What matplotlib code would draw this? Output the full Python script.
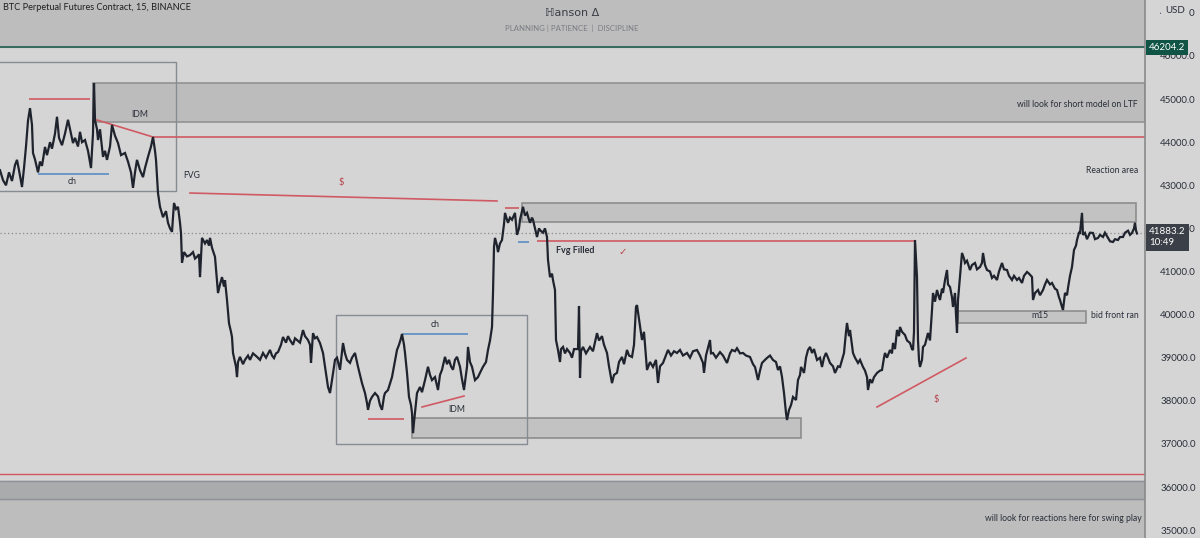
import matplotlib
matplotlib.use("Agg")
import matplotlib.pyplot as plt
from matplotlib.patches import Rectangle

plt.rcParams['font.family'] = ['Lato', 'DejaVu Sans']

# ---- price path (bar index, price) ----
path = [
 (0,43350),(3,43120),(6,43000),(9,43300),(12,43100),(15,43470),(17,43590),(19,43350),(22,42960),(24,43400),
 (26,43900),(28,44500),(30,44790),(32,44400),(33,43750),(35,43600),(37,43400),(38,43300),(40,43550),(42,43450),
 (45,43890),(47,43700),(50,44000),(52,43850),(55,44200),(57,44590),(59,44100),(62,43930),(65,44200),(68,44520),
 (70,44300),(73,43980),(75,44100),(78,43900),(80,44240),(82,44000),(85,44050),(88,43800),(91,43400),(93,44200),
 (94,45370),(95,44515),(97,44300),(98,44050),(100,44300),(103,43660),(105,43800),(107,43590),(110,43900),(112,44400),
 (115,44150),(118,43980),(121,43700),(125,43750),(128,43550),(131,43300),(133,42940),(135,43300),(137,43590),(140,43350),
 (143,43190),(145,43400),(148,43660),(151,43900),(153,44120),(155,43800),(156,43590),(158,42820),(160,42500),(163,42260),
 (166,42400),(168,42130),(170,42000),(172,41920),(174,42590),(176,42450),(178,42500),(180,42130),(181,41890),(182,41200),
 (184,41450),(187,41350),(190,41380),(193,41450),(195,41300),(197,41340),(199,41400),(200,40870),(202,41780),(205,41650),
 (207,41730),(209,41600),(210,41780),(212,41550),(215,41340),(217,40800),(218,40500),(220,40700),(222,40870),(224,40650),
 (225,40800),(227,40340),(229,39800),(231,39600),(232,39480),(233,39110),(235,38900),(236,38790),(237,38550),(238,38900),
 (240,39020),(243,38850),(245,38950),(248,39050),(250,38950),(253,39100),(257,39020),(260,38950),(263,39110),(266,39000),
 (270,39180),(272,39050),(274,38990),(276,39100),(278,39130),(281,39300),(283,39480),(286,39350),(288,39500),(290,39410),
 (293,39300),(295,39450),(297,39410),(300,39350),(303,39640),(305,39500),(308,39410),(310,39300),(311,38880),(313,39570),
 (315,39450),(317,39480),(320,39340),(323,39110),(325,38790),(328,38320),(330,38180),(332,38480),(335,38950),(337,39000),
 (340,38720),(343,39340),(345,39100),(347,38950),(350,38880),(352,39000),(355,39110),(358,38790),(360,38600),(362,38410),
 (365,38180),(367,37950),(368,37790),(370,38000),(372,38090),(375,38180),(378,38100),(380,37900),(382,37790),(384,38100),
 (385,38180),(388,38250),(390,38400),(392,38550),(394,38800),(396,39050),(397,39180),(399,39300),(401,39450),(402,39550),
 (404,39300),(405,39110),(407,38650),(409,38090),(411,37900),(412,37720),(413,37250),(414,37500),(415,37720),(417,38180),
 (420,38320),(422,38200),(425,38480),(428,38790),(430,38600),(432,38480),(435,38550),(438,38250),(440,38600),(442,38720),
 (445,39020),(447,38850),(449,38950),(451,38800),(453,38720),(455,38950),(457,39020),(460,38790),(462,38500),(464,38250),
 (466,38600),(467,38790),(468,39250),(470,38900),(472,38790),(475,38480),(478,38550),(480,38650),(483,38790),(486,38900),
 (488,39180),(490,39400),(492,39710),(493,40500),(494,41570),(495,41780),(497,41600),(498,41450),(500,41650),(502,41730),
 (504,42100),(505,42360),(507,42200),(508,42130),(510,42250),(512,42200),(515,42360),(516,42100),(517,41850),(519,42000),
 (520,42200),(522,42400),(523,42500),(525,42300),(527,42360),(529,42200),(530,42130),(532,42250),(533,42200),(535,42000),
 (537,41800),(539,42000),(540,41960),(543,41900),(545,42000),(547,41800),(548,41270),(550,40870),(552,40950),(553,40800),
 (555,40570),(556,39410),(558,39180),(560,38900),(561,39200),(563,39250),(565,39100),(567,39200),(570,39110),(572,39000),
 (574,39200),(578,39200),(579,40200),(580,38530),(581,39150),(583,39250),(586,39100),(590,39250),(593,39150),(597,39570),
 (599,39400),(602,39500),(604,39300),(607,39110),(609,38800),(612,38410),(614,38600),(617,38650),(619,38900),(622,39017),
 (624,38850),(627,39180),(629,39050),(632,39017),(634,39300),(636,40180),(637,40220),(639,39900),(642,39411),(644,39600),
 (646,39000),(647,38715),(650,38900),(653,38785),(656,38950),(658,38414),(660,38800),(663,38878),(665,39000),(668,39180),
 (671,39050),(674,39150),(677,39110),(680,39180),(683,39050),(687,39110),(690,39000),(693,39150),(697,39179),(700,39050),
 (703,38878),(704,38650),(706,39050),(710,39411),(711,39100),(713,39110),(716,39000),(720,39130),(723,39050),(727,38878),
 (730,39100),(732,39180),(735,39150),(737,39220),(740,39100),(743,39110),(746,39050),(750,39017),(753,38850),(755,38785),
 (758,38483),(760,38700),(762,38878),(765,38950),(767,38994),(770,39050),(773,38947),(776,38900),(778,38715),(780,38800),
 (782,38553),(784,38182),(786,37718),(787,37555),(789,37787),(791,37900),(793,38089),(796,38019),(798,38483),(800,38600),
 (801,38785),(803,38700),(804,38646),(806,39000),(808,39179),(810,39250),(812,39110),(814,39200),(817,38947),(820,39000),
 (822,38785),(824,39000),(826,39110),(828,39000),(830,38878),(833,38800),(835,38646),(838,38800),(840,38785),(842,38950),
 (844,39110),(846,39600),(847,39806),(849,39500),(850,39643),(852,39300),(853,39110),(855,39000),(858,38878),(860,38950),
 (863,38785),(865,38700),(867,38553),(868,38251),(870,38500),(872,38414),(874,38550),(877,38646),(880,38700),(882,38715),
 (884,39000),(885,39110),(887,39000),(890,39179),(892,39100),(893,39342),(895,39200),(897,39643),(899,39500),(900,39713),
 (902,39600),(905,39527),(907,39400),(910,39342),(912,39200),(913,39179),(914,39600),(915,41731),(916,41300),(917,40873),
 (918,39411),(919,38950),(920,38785),(922,38950),(923,39249),(925,39300),(928,39574),(930,39400),(932,40107),(933,40502),
 (935,40300),(937,40571),(939,40400),(940,40339),(942,40600),(943,40502),(945,40800),(947,41035),(948,40700),(950,40641),
 (952,40400),(953,40177),(955,40502),(956,40000),(957,39574),(958,40339),(960,40900),(962,41430),(964,41300),(965,41198),
 (967,41250),(970,41035),(972,41150),(975,41198),(977,41050),(980,41105),(982,41200),(983,41430),(985,41150),(987,41035),
 (990,41000),(992,40850),(994,40900),(997,40803),(999,41000),(1002,41198),(1004,41050),(1007,41035),(1009,40900),(1012,40803),
 (1014,40900),(1017,40803),(1019,40850),(1022,40734),(1024,40900),(1027,40989),(1029,40950),(1032,40873),(1033,40339),(1035,40500),
 (1038,40571),(1040,40450),(1043,40571),(1045,40700),(1047,40803),(1050,40700),(1052,40734),(1055,40600),(1057,40571),(1059,40400),
 (1060,40339),(1062,40177),(1063,40107),(1065,40502),(1067,40450),(1068,40618),(1070,40900),(1072,41105),(1074,41499),(1076,41600),
 (1077,41731),(1079,41900),(1080,41894),(1082,42360),(1083,41850),(1085,41894),(1087,41750),(1088,41801),(1090,41900),(1093,41894),
 (1095,41750),(1098,41778),(1100,41850),(1103,41801),(1105,41900),(1108,41778),(1110,41700),(1113,41685),(1115,41750),(1118,41731),
 (1120,41800),(1123,41801),(1125,41900),(1128,41947),(1130,41850),(1132,41894),(1134,42000),(1135,42130),(1136,41950),(1137,41883),
]
bars = [b for b, _ in path]
prices = [p for _, p in path]

last_price = 41883.2
top_line_price = 46204.2
yticks = list(range(35000, 48000, 1000))

# ---- zones (x0, x1, price_low, price_high) ----
short_zone = (93, 1145, 44469, 45374)
reaction_zone = (522, 1136, 42149, 42589)
low_zone = (412, 801, 37137, 37601)
m15_zone = (958, 1086, 39805, 40083)
left_box = (-5, 176, 42868, 45861)
mid_box = (336, 527, 36998, 39991)

BG = '#d5d5d5'
RED = '#d05a63'
BLUE = '#5a8cc4'
TXT = '#2a2e39'

fig = plt.figure(figsize=(12, 5.38), dpi=100, facecolor=BG)
ax = fig.add_axes([0, 0, 1145/1200, 1])
ax.set_facecolor(BG)
ymin, ymax = 34817, 47299
ax.set_xlim(0, 1145)
ax.set_ylim(ymin, ymax)

# header band and bottom bands
ax.axhspan(top_line_price, ymax, color='#bdbdbd', zorder=0)
ax.axhline(top_line_price, color='#1d5c4d', lw=1.2, zorder=1)
ax.axhspan(ymin, 35722, color='#bdbdbd', zorder=0)
ax.axhspan(35722, 36139, color='#aaabad', zorder=0)
ax.axhline(36139, color='#8f9196', lw=1, zorder=1)
ax.axhline(35722, color='#8f9196', lw=1, zorder=1)
ax.axhline(36302, color=RED, lw=1, zorder=1)

def zone(z, fc, ec, lw=1.2):
    x0, x1, p0, p1 = z
    ax.add_patch(Rectangle((x0, p0), x1 - x0, p1 - p0, facecolor=fc, edgecolor=ec, lw=lw, zorder=1))

zone(short_zone, '#bcbcbc', '#929292')
zone(reaction_zone, '#c2c2c2', '#8d8d8d')
zone(low_zone, '#c2c2c2', '#8d8d8d')
zone(m15_zone, '#c4c4c4', '#8d8d8d')
zone(left_box, 'none', '#878c94', 1.0)
zone(mid_box, 'none', '#878c94', 1.0)

# horizontal levels
ax.hlines(44121, 153, 1145, color=RED, lw=1.2, zorder=2)
ax.hlines(45002, 29, 90, color=RED, lw=1.2, zorder=2)
ax.hlines(43262, 38, 109, color=BLUE, lw=1.2, zorder=2)
ax.hlines(41708, 537, 915, color=RED, lw=1.2, zorder=2)
ax.hlines(42473, 505, 519, color=RED, lw=1.2, zorder=2)
ax.hlines(41690, 518, 529, color=BLUE, lw=1.2, zorder=2)
ax.hlines(37578, 368, 404, color=RED, lw=1.2, zorder=2)
ax.hlines(39550, 402, 468, color=BLUE, lw=1.2, zorder=2)
ax.axhline(last_price, color='#8a8a8a', lw=0.9, ls=(0, (1, 2)), zorder=1)

# diagonal lines
ax.plot([97, 153], [44515, 44121], color=RED, lw=1.2, zorder=2)
ax.plot([190, 497], [42821, 42636], color=RED, lw=1.2, zorder=2)
ax.plot([422, 464], [37856, 38111], color=RED, lw=1.2, zorder=2)
ax.plot([877, 966], [37856, 38993], color=RED, lw=1.2, zorder=2)

# price path
ax.plot(bars, prices, color='#1f232d', lw=1.6, zorder=3, solid_joinstyle='miter')

# annotations
fs = 6.2
ax.text(72, 43077, 'ch', ha='center', va='center', fontsize=fs, color=TXT, zorder=4)
ax.text(140, 44654, 'IDM', ha='center', va='center', fontsize=fs, color=TXT, zorder=4)
ax.text(192, 43216, 'FVG', ha='center', va='center', fontsize=fs, color=TXT, zorder=4)
ax.text(341, 43054, '$', ha='center', va='center', fontsize=fs + 0.5, color='#b8414a', zorder=4)
ax.text(556, 41476, 'Fvg Filled', ha='left', va='center', fontsize=fs + 0.3, color=TXT,
        fontweight='bold', zorder=4)
ax.text(623, 41453, '✓', ha='center', va='center', fontsize=fs + 1, color='#b8414a',
        family=['DejaVu Sans'], fontweight='bold', zorder=4)
ax.text(435, 39759, 'ch', ha='center', va='center', fontsize=fs, color=TXT, zorder=4)
ax.text(457, 37787, 'IDM', ha='center', va='center', fontsize=fs, color=TXT, zorder=4)
ax.text(936, 38019, '$', ha='center', va='center', fontsize=fs + 0.5, color='#b8414a', zorder=4)
ax.text(1040, 39968, 'm15', ha='center', va='center', fontsize=fs, color=TXT, zorder=4)
ax.text(1139, 39968, 'bid front ran', ha='right', va='center', fontsize=fs, color=TXT, zorder=4)
ax.text(1138, 43332, 'Reaction area', ha='right', va='center', fontsize=fs, color=TXT, zorder=4)
ax.text(1138, 44886, 'will look for short model on LTF', ha='right', va='center', fontsize=fs, color=TXT, zorder=4)
ax.text(1142, 35258, 'will look for reactions here for swing play', ha='right', va='center', fontsize=fs, color=TXT, zorder=4)

# header texts
fig.text(3/1200, 1 - 8/538, 'BTC Perpetual Futures Contract, 15, BINANCE', ha='left', va='center',
         fontsize=6.6, color='#1f1f1f')
fig.text(572/1200, 1 - 13/538, 'ℍanson Δ', ha='center', va='center', fontsize=8,
         color='#3a3d45', family=['DejaVu Sans'])
fig.text(572/1200, 1 - 28/538, 'PLANNING | PATIENCE  |  DISCIPLINE', ha='center', va='center',
         fontsize=5.6, color='#7a7c82')

# price axis on the right
ax.yaxis.tick_right()
ax.set_yticks(yticks)
ax.set_yticklabels([f'{v:.1f}' for v in yticks])
ax.tick_params(axis='y', length=0, pad=11, labelsize=7, labelcolor='#2a2e39')
ax.tick_params(axis='x', bottom=False, labelbottom=False)
for s in ['top', 'left', 'bottom']:
    ax.spines[s].set_visible(False)
ax.spines['right'].set_color('#8a8a8a')
ax.spines['right'].set_linewidth(1.2)

ytr = ax.get_yaxis_transform()
ax.text(1.0 + 30/1145, 47060, 'USD', transform=ytr, ha='center', va='center', fontsize=7,
        color='#2a2e39', clip_on=False, zorder=6,
        bbox=dict(boxstyle='square,pad=0.45', facecolor=BG, edgecolor='none'))
ax.text(1.0 + 4/1145, top_line_price, '46204.2', transform=ytr, ha='left', va='center', fontsize=7,
        color='white', clip_on=False, zorder=6,
        bbox=dict(boxstyle='square,pad=0.3', facecolor='#0f5444', edgecolor='none'))
ax.text(1.0 + 4/1145, last_price - 90, f'{last_price:.1f}\n10:49', transform=ytr, ha='left', va='center',
        fontsize=7, color='white', clip_on=False, zorder=6, linespacing=1.25,
        bbox=dict(boxstyle='square,pad=0.35', facecolor='#3b3f48', edgecolor='none'))

fig.savefig('out.png', dpi=100, facecolor=BG)
